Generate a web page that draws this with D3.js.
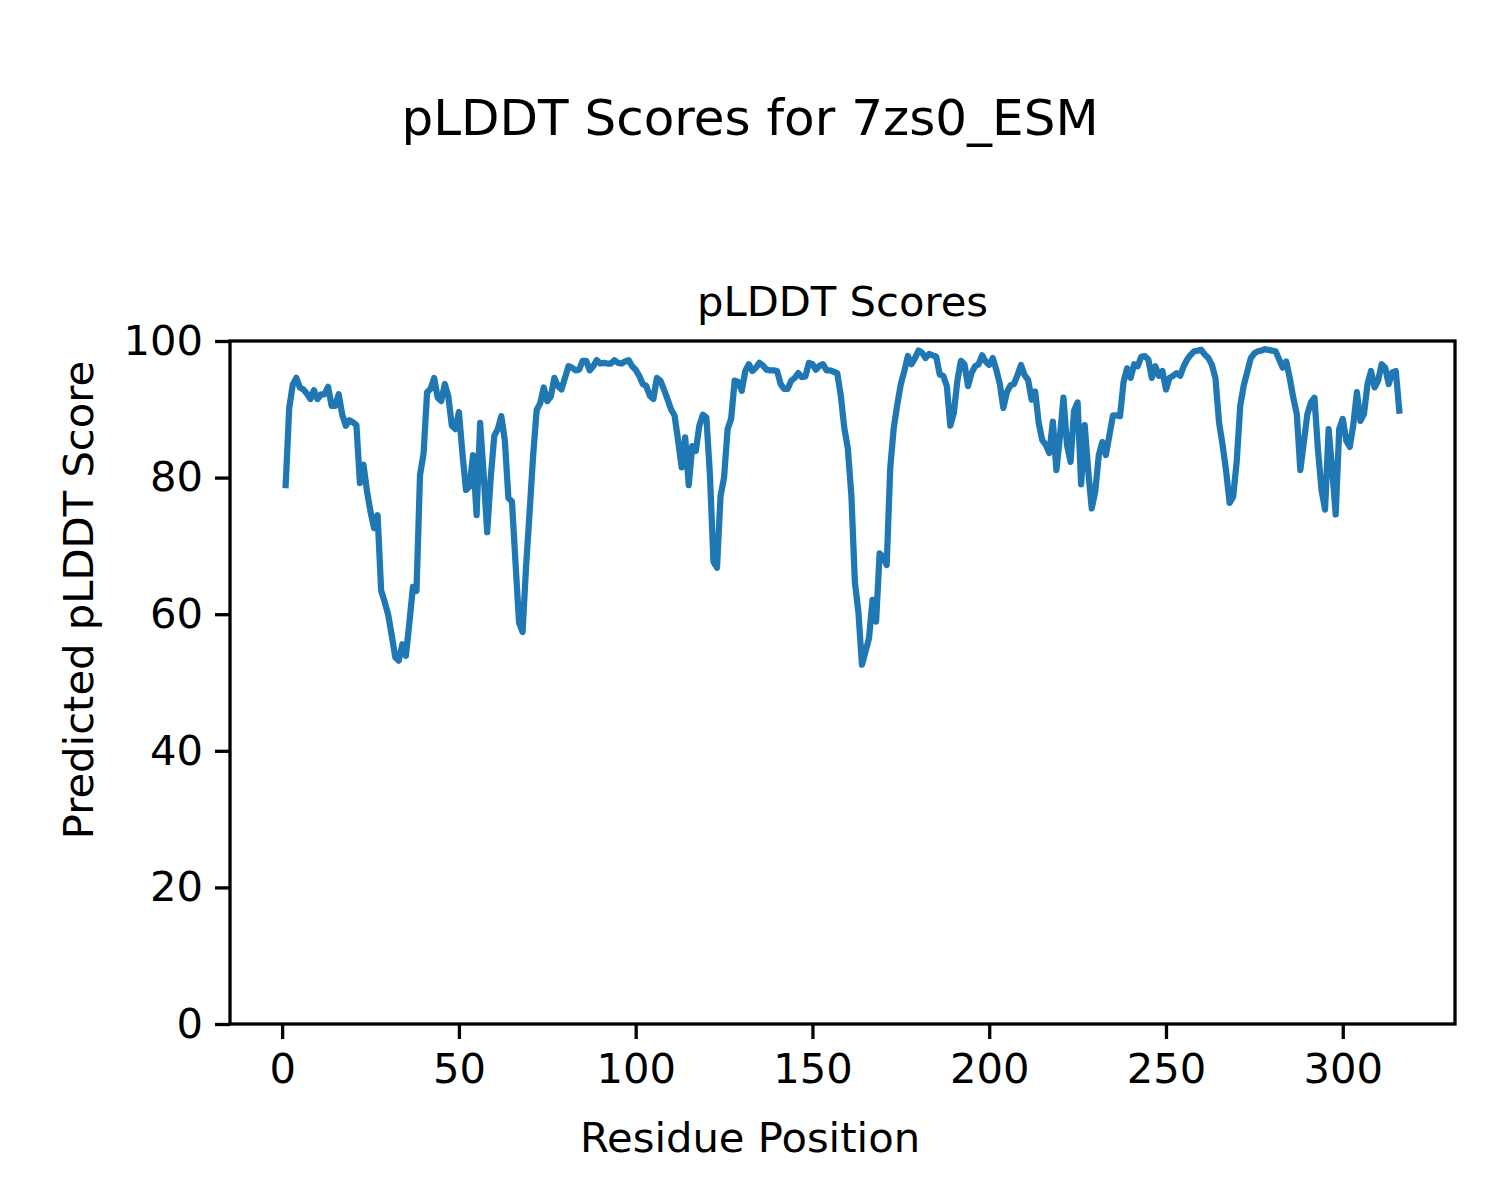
<!DOCTYPE html>
<html>
<head>
<meta charset="utf-8">
<script src="https://cdn.jsdelivr.net/npm/d3@7"></script>
<style>
    body { margin: 0; background: #fff; }
    text { font-family: "DejaVu Sans", sans-serif; fill: #000; }
</style>
</head>
<body>
<svg id="plddt-plot"></svg>
<script>
// data
const figTitle = 'pLDDT Scores for 7zs0_ESM';
const axTitle = 'pLDDT Scores';
const xLabel = 'Residue Position';
const yLabel = 'Predicted pLDDT Score';
const firstResidue = 1;
const xTicks = [0, 50, 100, 150, 200, 250, 300];
const yTicks = [0, 20, 40, 60, 80, 100];
const scores = [
    78.9, 90.2, 93.6, 94.6, 93.2, 92.9, 92.3, 91.5, 92.8, 91.5,
    92.2, 92.2, 93.3, 90.5, 90.5, 92.2, 89.2, 87.6, 88.4, 88.1,
    87.7, 79.2, 81.9, 78.0, 75.0, 72.6, 74.5, 63.5, 61.8, 59.9,
    56.9, 53.7, 53.2, 55.6, 53.9, 58.8, 64.0, 63.4, 80.4, 83.5,
    92.5, 93.0, 94.6, 91.7, 91.2, 93.7, 91.9, 87.6, 87.1, 89.6,
    83.5, 78.2, 78.7, 83.3, 74.5, 88.0, 80.5, 72.0, 80.0, 86.1,
    87.1, 89.0, 85.4, 77.0, 76.5, 67.6, 58.8, 57.4, 67.0, 75.0,
    83.3, 89.9, 90.9, 93.2, 91.2, 91.9, 94.6, 93.4, 92.9, 94.6,
    96.3, 96.1, 95.7, 95.8, 97.1, 97.1, 95.7, 96.3, 97.2, 96.7,
    96.8, 96.7, 96.7, 97.2, 96.8, 96.7, 97.0, 97.2, 96.3, 95.8,
    94.9, 93.7, 93.4, 92.0, 91.5, 94.6, 94.2, 92.9, 91.5, 90.0,
    89.1, 85.4, 81.5, 85.9, 78.9, 84.6, 83.9, 87.6, 89.2, 88.8,
    80.4, 67.7, 66.8, 77.3, 80.0, 87.1, 88.6, 94.2, 94.0, 92.7,
    95.6, 96.6, 95.6, 96.1, 96.8, 96.4, 95.8, 95.7, 95.7, 95.6,
    93.7, 93.0, 93.0, 94.2, 94.6, 95.3, 94.7, 94.8, 96.8, 96.6,
    95.8, 96.4, 96.6, 95.7, 95.7, 95.5, 95.3, 92.1, 87.3, 84.3,
    77.5, 64.7, 60.3, 52.6, 54.5, 56.5, 62.1, 58.9, 68.9, 68.4,
    67.2, 81.4, 87.3, 90.7, 93.7, 95.6, 97.8, 96.6, 97.5, 98.6,
    98.3, 97.5, 98.1, 97.9, 97.7, 95.1, 94.9, 93.4, 87.6, 89.5,
    94.2, 97.1, 96.6, 93.4, 95.3, 96.3, 96.6, 97.9, 97.0, 96.5,
    97.5, 95.8, 93.7, 90.2, 92.5, 93.5, 93.7, 95.0, 96.5, 95.0,
    94.3, 91.4, 92.6, 88.0, 85.5, 84.8, 83.6, 88.2, 81.1, 86.0,
    91.7, 84.8, 82.3, 89.8, 91.0, 79.0, 87.7, 81.0, 75.5, 78.0,
    83.3, 85.2, 83.3, 86.2, 89.1, 89.1, 89.0, 94.0, 96.0, 94.6,
    96.6, 96.3, 97.7, 97.8, 97.3, 94.6, 96.3, 94.9, 95.6, 92.9,
    94.6, 94.9, 95.3, 94.9, 96.3, 97.3, 98.0, 98.5, 98.6, 98.7,
    98.0, 97.5, 96.5, 94.5, 88.1, 84.8, 81.0, 76.3, 77.2, 82.3,
    90.5, 93.5, 95.5, 97.5, 98.2, 98.5, 98.6, 98.8, 98.7, 98.6,
    98.5, 97.3, 96.1, 97.0, 94.6, 91.7, 89.3, 81.1, 85.2, 89.3,
    91.0, 91.7, 84.0, 78.2, 75.3, 87.1, 81.3, 74.6, 87.1, 88.6,
    85.4, 84.5, 87.8, 92.5, 88.3, 89.3, 93.7, 95.6, 93.2, 94.2,
    96.6, 96.1, 93.7, 95.4, 95.6, 89.8
];

const config = {
    width: 1500,
    height: 1200,
    left: 230,
    right: 1455,
    top: 341,
    bottom: 1024,
    fontSize: 41.7,
    lineColor: '#1f77b4'
};

// 0) define svg
let svg = d3.select('#plddt-plot')
    .attr('width', config.width)
    .attr('height', config.height);

const points = scores.map((s, i) => ({residue: firstResidue + i, score: s}));

// 1) scales (matplotlib style 5% x margin)
const xExtent = d3.extent(points, d => d.residue);
const pad = (xExtent[1] - xExtent[0]) * 0.05;
let xScale = d3.scaleLinear()
    .domain([xExtent[0] - pad, xExtent[1] + pad])
    .range([config.left, config.right]);

let yScale = d3.scaleLinear()
    .domain([0, 100])
    .range([config.bottom, config.top]);

// 2) axes
let xAxis = svg.append('g')
    .attr('transform', `translate(0,${config.bottom})`)
    .call(d3.axisBottom(xScale).tickValues(xTicks).tickSize(15).tickPadding(12).tickSizeOuter(0));
let yAxis = svg.append('g')
    .attr('transform', `translate(${config.left},0)`)
    .call(d3.axisLeft(yScale).tickValues(yTicks).tickSize(15).tickPadding(12).tickSizeOuter(0));

[xAxis, yAxis].forEach(ax => {
    ax.select('.domain').remove();
    ax.selectAll('line').attr('stroke', '#000').attr('stroke-width', 3.3);
    ax.selectAll('text')
        .style('font-family', '"DejaVu Sans", sans-serif')
        .style('font-size', config.fontSize + 'px')
        .attr('fill', '#000');
});
xAxis.selectAll('text').attr('dy', '0.76em');

// 3) plot line
const line = d3.line()
    .x(d => xScale(d.residue))
    .y(d => yScale(d.score));

svg.append('path')
    .datum(points)
    .attr('d', line)
    .attr('fill', 'none')
    .attr('stroke', config.lineColor)
    .attr('stroke-width', 6.25)
    .attr('stroke-linejoin', 'round')
    .attr('stroke-linecap', 'square');

// 4) spines
svg.append('rect')
    .attr('x', config.left)
    .attr('y', config.top)
    .attr('width', config.right - config.left)
    .attr('height', config.bottom - config.top)
    .attr('fill', 'none')
    .attr('stroke', '#000')
    .attr('stroke-width', 3.3);

// 5) titles and labels
svg.append('text')
    .attr('x', config.width / 2)
    .attr('y', 135)
    .attr('text-anchor', 'middle')
    .style('font-size', '50px')
    .text(figTitle);

svg.append('text')
    .attr('x', (config.left + config.right) / 2)
    .attr('y', 316)
    .attr('text-anchor', 'middle')
    .style('font-size', config.fontSize + 'px')
    .text(axTitle);

svg.append('text')
    .attr('x', config.width / 2)
    .attr('y', 1152)
    .attr('text-anchor', 'middle')
    .style('font-size', config.fontSize + 'px')
    .text(xLabel);

svg.append('text')
    .attr('transform', `translate(93,${config.height / 2}) rotate(-90)`)
    .attr('text-anchor', 'middle')
    .style('font-size', config.fontSize + 'px')
    .text(yLabel);
</script>
</body>
</html>
